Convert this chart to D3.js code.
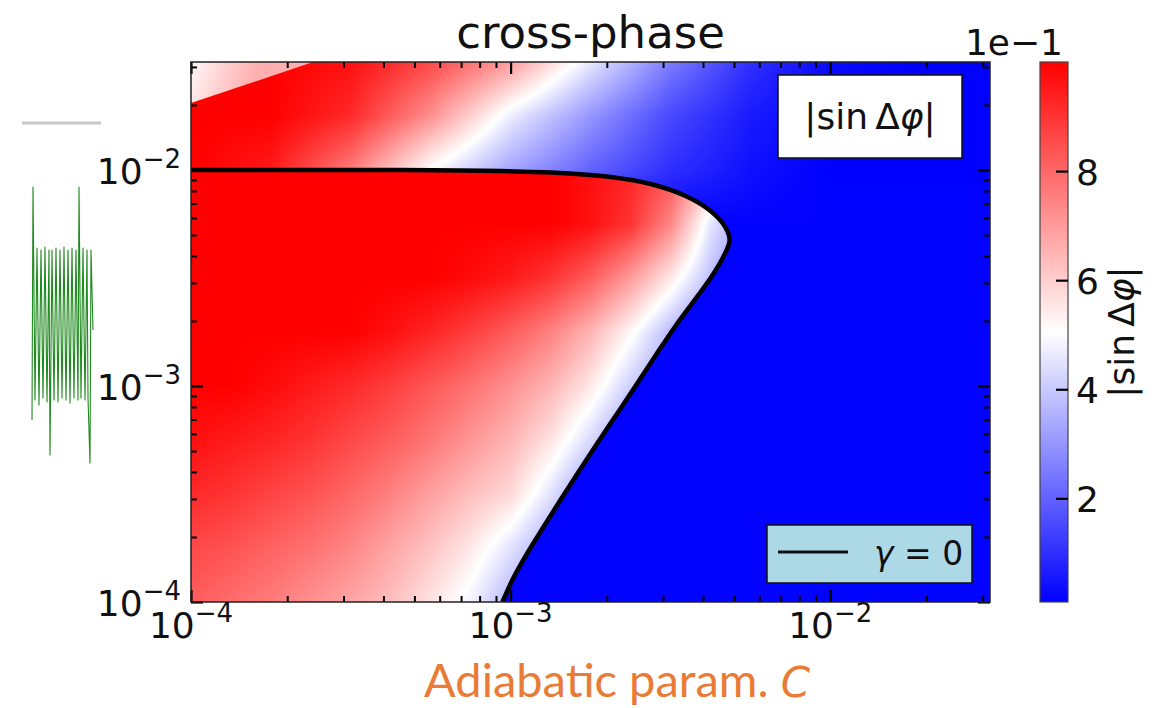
<!DOCTYPE html>
<html>
<head>
<meta charset="utf-8">
<script src="https://cdn.jsdelivr.net/npm/d3@7"></script>
<style>
  body { margin: 0; background: #fff; }
  svg { display: block; }
  text { font-family: "DejaVu Sans", sans-serif; fill: #111; }
</style>
</head>
<body>
<svg id="chart" width="1163" height="708"></svg>
<script>
// ---------------- data ----------------
const xDomain = [1e-4, Math.pow(10, -1.5)];      // adiabatic parameter C
const yDomain = [1e-4, Math.pow(10, -1.5)];
const colorDomain = [0.01, 1.0];                  // |sin Δφ|
const majorExponents = [-4, -3, -2];
const exponentLabels = ["−4", "−3", "−2"];
const cbarTicks = [0.2, 0.4, 0.6, 0.8];
const cbarTickLabels = ["2", "4", "6", "8"];

// gamma = 0 contour
const contourC = [1.0e-4, 2.195e-4, 4.52e-4, 9.29e-4, 1.432e-3, 2.055e-3, 2.742e-3, 3.528e-3, 4.225e-3,
                  4.674e-3, 4.846e-3, 4.61e-3, 4.225e-3, 3.765e-3, 3.282e-3, 2.862e-3, 2.495e-3,
                  2.161e-3, 1.870e-3, 1.631e-3, 1.432e-3, 1.267e-3, 1.129e-3, 1.020e-3, 9.43e-4];
const contourY = [1.0e-2, 1.0e-2, 1.0e-2, 9.89e-3, 9.68e-3, 9.28e-3, 8.61e-3, 7.58e-3, 6.46e-3,
                  5.50e-3, 4.74e-3, 3.915e-3, 3.162e-3, 2.50e-3, 1.896e-3, 1.406e-3, 1.032e-3,
                  7.50e-4, 5.45e-4, 4.00e-4, 2.966e-4, 2.224e-4, 1.686e-4, 1.291e-4, 1.0e-4];

// field inside the gamma = 0 contour, nodes in log10 space
const innerLogC = [-4, -3.875, -3.75, -3.625, -3.5, -3.375, -3.25, -3.125, -3, -2.875, -2.75, -2.625, -2.5, -2.375, -2.25];
const innerLogY = [-2, -2.25, -2.5, -2.75, -3, -3.25, -3.5, -3.75, -4];
const innerField = [
  [1, 1, 1, 1, 1, 1, 1, 1, 1, 1, 0.97, 0.93, 0.85, 0.65, 0.40],
  [1, 1, 1, 1, 1, 1, 1, 1, 1, 1, 0.97, 0.90, 0.74, 0.46, 0.30],
  [1, 1, 1, 1, 1, 1, 1, 0.98, 0.95, 0.90, 0.82, 0.70, 0.55, 0.38, 0.25],
  [1, 1, 1, 1, 1, 0.97, 0.93, 0.88, 0.82, 0.75, 0.65, 0.52, 0.37, 0.25, 0.20],
  [1, 1, 0.98, 0.95, 0.92, 0.88, 0.83, 0.78, 0.72, 0.65, 0.55, 0.41, 0.30, 0.20, 0.20],
  [0.97, 0.95, 0.93, 0.90, 0.86, 0.82, 0.77, 0.71, 0.65, 0.56, 0.43, 0.30, 0.20, 0.20, 0.20],
  [0.92, 0.90, 0.87, 0.84, 0.80, 0.75, 0.69, 0.63, 0.58, 0.45, 0.30, 0.20, 0.20, 0.20, 0.20],
  [0.86, 0.84, 0.81, 0.78, 0.74, 0.68, 0.62, 0.55, 0.45, 0.33, 0.25, 0.20, 0.20, 0.20, 0.20],
  [0.82, 0.79, 0.76, 0.72, 0.68, 0.63, 0.56, 0.48, 0.36, 0.28, 0.22, 0.20, 0.20, 0.20, 0.20]
];

// field outside the contour
const outerLogC = [-4, -3.75, -3.5, -3.25, -3, -2.75, -2.5, -2.25, -2, -1.75, -1.5];
const outerLogY = [-1.5, -1.75, -2, -2.25, -2.5, -2.75, -3, -3.25, -3.5, -3.75, -4];
const outerField = [
  [1, 1, 0.97, 0.86, 0.70, 0.46, 0.25, 0.10, 0.03, 0.01, 0.01],
  [1, 1, 0.92, 0.72, 0.47, 0.30, 0.15, 0.06, 0.02, 0.01, 0.01],
  [1, 0.95, 0.76, 0.50, 0.33, 0.20, 0.10, 0.04, 0.01, 0.01, 0.01],
  [0.015, 0.015, 0.015, 0.015, 0.015, 0.015, 0.015, 0.015, 0.015, 0.015, 0.015],
  [0.015, 0.015, 0.015, 0.015, 0.015, 0.015, 0.015, 0.015, 0.015, 0.015, 0.015],
  [0.015, 0.015, 0.015, 0.015, 0.015, 0.015, 0.015, 0.015, 0.015, 0.015, 0.015],
  [0.015, 0.015, 0.015, 0.015, 0.015, 0.015, 0.015, 0.015, 0.015, 0.015, 0.015],
  [0.015, 0.015, 0.015, 0.015, 0.015, 0.015, 0.015, 0.015, 0.015, 0.015, 0.015],
  [0.015, 0.015, 0.015, 0.015, 0.015, 0.015, 0.015, 0.015, 0.015, 0.015, 0.015],
  [0.015, 0.015, 0.015, 0.015, 0.015, 0.015, 0.015, 0.015, 0.015, 0.015, 0.015],
  [0.015, 0.015, 0.015, 0.015, 0.015, 0.015, 0.015, 0.015, 0.015, 0.015, 0.015]
];

// second branch in the upper-left corner
const patchC = [1e-4, 1e-4, 2.41e-4];
const patchY = [Math.pow(10, -1.5), 0.0204, Math.pow(10, -1.5)];
const patchValues = [0.52, 0.66];   // corner, edge

// green trace strip at the left margin (screen units)
const tracePts = [[32,420],[33,187],[35,400],[37,248],[39,405],[41,250],[43,398],[45,247],[47,402],[49,250],
  [50,455],[52,250],[54,400],[56,248],[58,402],[60,250],[62,398],[64,247],[66,400],[68,250],[70,403],
  [72,248],[74,398],[76,250],[78,400],[79,187],[81,398],[83,248],[85,400],[87,250],[88,398],[90,463],
  [91,250],[93,330]];

// ---------------- layout ----------------
const svg = d3.select("#chart");
const PL = 191, PR = 990, PT = 62, PB = 602;
const x = d3.scaleLog().domain(xDomain).range([PL, PR]);
const y = d3.scaleLog().domain(yDomain).range([PB, PT]);
const color = d3.scaleLinear()
  .domain([colorDomain[0], (colorDomain[0] + colorDomain[1]) / 2, colorDomain[1]])
  .range(["#0000ff", "#ffffff", "#ff0000"]).clamp(true);

// colour lookup table
const LUT_N = 1024;
const lut = d3.range(LUT_N).map(k => d3.rgb(color(colorDomain[0] + (colorDomain[1] - colorDomain[0]) * k / (LUT_N - 1))));

const defs = svg.append("defs");
defs.append("clipPath").attr("id", "plotClip")
  .append("rect").attr("x", PL).attr("y", PT).attr("width", PR - PL).attr("height", PB - PT);

// shade a value grid over the plot area (bilinear shading in log-log space)
function fieldImage(field, logC, logY) {
  const w = PR - PL, h = PB - PT;
  const cv = document.createElement("canvas");
  cv.width = w; cv.height = h;
  const ctx = cv.getContext("2d");
  const img = ctx.createImageData(w, h);
  const nc = logC.length, nr = logY.length;
  const fi = d3.scaleLinear().domain([logC[0], logC[nc - 1]]).range([0, nc - 1]).clamp(true);
  const fj = d3.scaleLinear().domain([logY[0], logY[nr - 1]]).range([0, nr - 1]).clamp(true);
  for (let py = 0; py < h; py++) {
    const gj = fj(Math.log10(y.invert(PT + py + 0.5)));
    const j0 = Math.min(Math.floor(gj), nr - 2), tj = gj - j0;
    for (let px = 0; px < w; px++) {
      const gi = fi(Math.log10(x.invert(PL + px + 0.5)));
      const i0 = Math.min(Math.floor(gi), nc - 2), ti = gi - i0;
      const v = (1 - tj) * ((1 - ti) * field[j0][i0] + ti * field[j0][i0 + 1]) +
                tj * ((1 - ti) * field[j0 + 1][i0] + ti * field[j0 + 1][i0 + 1]);
      let k = Math.round((v - colorDomain[0]) / (colorDomain[1] - colorDomain[0]) * (LUT_N - 1));
      k = Math.max(0, Math.min(LUT_N - 1, k));
      const c = lut[k], o = 4 * (py * w + px);
      img.data[o] = c.r; img.data[o + 1] = c.g; img.data[o + 2] = c.b; img.data[o + 3] = 255;
    }
  }
  ctx.putImageData(img, 0, 0);
  return cv.toDataURL();
}

const contourPts = contourC.map((c, i) => [x(c), y(contourY[i])]);
const contourLine = d3.line().curve(d3.curveCatmullRom.alpha(0.5));
const contourPath = contourLine(contourPts);
defs.append("clipPath").attr("id", "innerClip")
  .append("path").attr("d", contourPath + "L" + x(xDomain[0]) + "," + y(yDomain[0]) + "Z");

const plot = svg.append("g").attr("clip-path", "url(#plotClip)");

plot.append("image").attr("href", fieldImage(outerField, outerLogC, outerLogY))
  .attr("x", PL).attr("y", PT).attr("width", PR - PL).attr("height", PB - PT);

plot.append("g").attr("clip-path", "url(#innerClip)")
  .append("image").attr("href", fieldImage(innerField, innerLogC, innerLogY))
  .attr("x", PL).attr("y", PT).attr("width", PR - PL).attr("height", PB - PT);

// upper-left branch
const pg = defs.append("linearGradient").attr("id", "patchGrad")
  .attr("gradientUnits", "userSpaceOnUse")
  .attr("x1", x(patchC[0])).attr("y1", y(patchY[0]))
  .attr("x2", (x(patchC[1]) + x(patchC[2])) / 2).attr("y2", (y(patchY[1]) + y(patchY[2])) / 2);
pg.append("stop").attr("offset", 0).attr("stop-color", color(patchValues[0]));
pg.append("stop").attr("offset", 1).attr("stop-color", color(patchValues[1]));
plot.append("path")
  .attr("d", d3.line()(patchC.map((c, i) => [x(c), y(patchY[i])])) + "Z")
  .attr("fill", "url(#patchGrad)");

// gamma = 0 contour line
plot.append("path").attr("d", contourPath).attr("fill", "none")
  .attr("stroke", "#000").attr("stroke-width", 4.5).attr("stroke-linejoin", "round");

// ---------------- axes ----------------
const allTicks = x.ticks();
const isMajor = v => Math.abs(Math.log10(v) - Math.round(Math.log10(v))) < 1e-6;
const majors = allTicks.filter(isMajor), minors = allTicks.filter(v => !isMajor(v));
const yTicks = y.ticks();
const yMajors = yTicks.filter(isMajor), yMinors = yTicks.filter(v => !isMajor(v));

function tickAxis(axisGen, scale, vals, size, transform, width) {
  const g = svg.append("g").attr("transform", transform)
    .call(axisGen(scale).tickValues(vals).tickSize(-size).tickFormat(""));
  g.select(".domain").remove();
  g.selectAll(".tick line").attr("stroke", "#000").attr("stroke-width", width);
}
[[d3.axisBottom, `translate(0,${PB})`], [d3.axisTop, `translate(0,${PT})`]].forEach(([a, t]) => {
  tickAxis(a, x, minors, 6, t, 2);
  tickAxis(a, x, majors, 12, t, 2.2);
});
[[d3.axisLeft, `translate(${PL},0)`], [d3.axisRight, `translate(${PR},0)`]].forEach(([a, t]) => {
  tickAxis(a, y, yMinors, 6, t, 2);
  tickAxis(a, y, yMajors, 12, t, 2.2);
});

svg.append("rect").attr("x", PL).attr("y", PT).attr("width", PR - PL).attr("height", PB - PT)
  .attr("fill", "none").attr("stroke", "#222").attr("stroke-width", 1.5);

function powLabel(t, exp) {
  t.append("tspan").text("10");
  t.append("tspan").attr("dy", -16).attr("font-size", 26).text(exp);
}
majorExponents.forEach((e, i) => {
  const v = Math.pow(10, e);
  powLabel(svg.append("text").attr("x", x(v)).attr("y", PB + 36)
    .attr("text-anchor", "middle").attr("font-size", 36), exponentLabels[i]);
  powLabel(svg.append("text").attr("x", PL - 10).attr("y", y(v) + 14)
    .attr("text-anchor", "end").attr("font-size", 36), exponentLabels[i]);
});

// title
svg.append("text").attr("x", (PL + PR) / 2).attr("y", 48).attr("text-anchor", "middle")
  .attr("font-size", 45).text("cross-phase");

// x label
const xl = svg.append("text").attr("x", 617).attr("y", 697).attr("text-anchor", "middle")
  .attr("font-size", 47).style("font-family", "Lato, 'Open Sans', sans-serif").style("fill", "#E97B36");
xl.append("tspan").text("Adiabatic param. ");
xl.append("tspan").style("font-family", "'DejaVu Sans'").attr("font-style", "italic")
  .attr("font-size", 42).text("C");

// ---------------- legends ----------------
svg.append("rect").attr("x", 778).attr("y", 75).attr("width", 184).attr("height", 83)
  .attr("fill", "#fff").attr("stroke", "#111").attr("stroke-width", 1.5);
const l1 = svg.append("text").attr("x", 870).attr("y", 129).attr("text-anchor", "middle").attr("font-size", 36);
l1.append("tspan").text("|sin\u2009Δ");
l1.append("tspan").attr("font-style", "italic").text("φ");
l1.append("tspan").text("|");

svg.append("rect").attr("x", 767).attr("y", 525).attr("width", 205).attr("height", 58)
  .attr("fill", "#ADD8E6").attr("stroke", "#111").attr("stroke-width", 1.5);
svg.append("line").attr("x1", 778).attr("x2", 848).attr("y1", 552).attr("y2", 552)
  .attr("stroke", "#111").attr("stroke-width", 3);
const l2 = svg.append("text").attr("x", 874).attr("y", 565).attr("font-size", 33);
l2.append("tspan").attr("font-style", "italic").text("γ");
l2.append("tspan").text(" = 0");

// ---------------- colorbar ----------------
const CBL = 1040, CBR = 1068;
const cy = d3.scaleLinear().domain(colorDomain).range([PB, PT]);
const cg = defs.append("linearGradient").attr("id", "cbarGrad")
  .attr("x1", 0).attr("y1", 1).attr("x2", 0).attr("y2", 0);
color.domain().forEach(v => cg.append("stop")
  .attr("offset", (v - colorDomain[0]) / (colorDomain[1] - colorDomain[0]))
  .attr("stop-color", color(v)));
svg.append("rect").attr("x", CBL).attr("y", PT).attr("width", CBR - CBL).attr("height", PB - PT)
  .attr("fill", "url(#cbarGrad)").attr("stroke", "#444").attr("stroke-width", 1.2);
const cbAxis = svg.append("g").attr("transform", `translate(${CBR},0)`)
  .call(d3.axisRight(cy).tickValues(cbarTicks).tickSize(-12)
    .tickFormat((d, i) => cbarTickLabels[i]).tickPadding(20));
cbAxis.select(".domain").remove();
cbAxis.selectAll(".tick line").attr("stroke", "#000").attr("stroke-width", 2.2);
cbAxis.selectAll(".tick text").attr("font-size", 36).attr("font-family", "DejaVu Sans")
  .attr("fill", "#111").attr("x", 8).attr("dy", "0.36em");
svg.append("text").attr("x", 1063).attr("y", 55).attr("text-anchor", "end")
  .attr("font-size", 36).text("1e−1");
const cl = svg.append("text").attr("transform", `translate(1134,${(PT + PB) / 2}) rotate(-90)`)
  .attr("text-anchor", "middle").attr("font-size", 36);
cl.append("tspan").text("|sin\u2009Δ");
cl.append("tspan").attr("font-style", "italic").text("φ");
cl.append("tspan").text("|");

// ---------------- left margin strip ----------------
svg.append("line").attr("x1", 22).attr("x2", 101).attr("y1", 123).attr("y2", 123)
  .attr("stroke", "#c8c8c8").attr("stroke-width", 3);
svg.append("path").attr("d", d3.line()(tracePts)).attr("fill", "none")
  .attr("stroke", "#1f8a1f").attr("stroke-width", 1.1).attr("stroke-linejoin", "round");
</script>
</body>
</html>
